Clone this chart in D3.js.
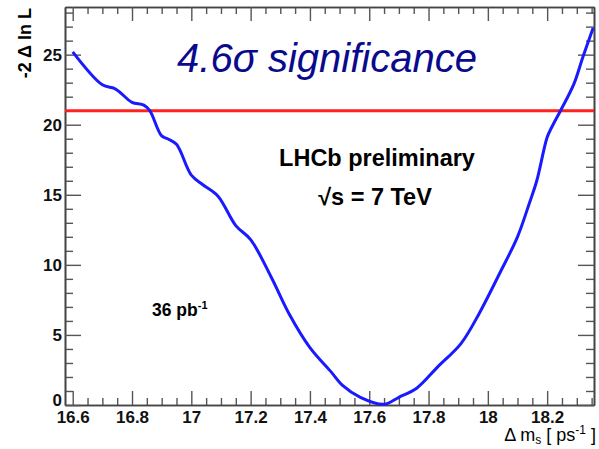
<!DOCTYPE html>
<html>
<head>
<meta charset="utf-8">
<script src="https://cdn.jsdelivr.net/npm/d3@7"></script>
<style>
  body { margin: 0; background: #fff; }
  svg { display: block; font-family: "Liberation Sans", Arial, sans-serif; }
  .axis path { stroke: #444; stroke-width: 1.6; }
  .axis line { stroke: #555; stroke-width: 1.4; }
  .axis text { font-size: 17px; font-weight: bold; fill: #111; font-family: "Liberation Sans", Arial, sans-serif; }
</style>
</head>
<body>
<div class="container"></div>
<script>
// scan of -2 delta lnL versus delta m_s
const dmVals  = [16.60, 16.70, 16.74, 16.76, 16.80, 16.84, 16.86, 16.90, 16.92, 16.95, 17.00, 17.04, 17.09,
                 17.15, 17.20, 17.27, 17.33, 17.40, 17.47, 17.51, 17.57, 17.65, 17.70, 17.76, 17.83, 17.91,
                 17.97, 18.04, 18.10, 18.14, 18.165, 18.20, 18.215, 18.245, 18.29, 18.32, 18.355]
const nllVals = [25.2, 22.85, 22.6, 22.3, 21.6, 21.4, 21.0, 19.2, 19.0, 18.6, 16.4, 15.7, 14.9,
                 12.8, 11.8, 9.1, 6.5, 4.1, 2.4, 1.4, 0.55, 0.05, 0.55, 1.2, 2.7, 4.4,
                 6.5, 9.4, 12.0, 14.4, 16.0, 19.1, 19.8, 21.0, 22.9, 24.8, 26.9]
const sigmaLevel = 21.0

const xMajor = [16.6, 16.8, 17, 17.2, 17.4, 17.6, 17.8, 18, 18.2]
const xLabels = ["16.6", "16.8", "17", "17.2", "17.4", "17.6", "17.8", "18", "18.2"]
const yMajor = [0, 5, 10, 15, 20, 25]

const width = 599
const height = 449
const frameL = 65, frameR = 594, frameT = 7, frameB = 405

const xScale = d3.scaleLinear().domain([16.574, 18.358]).range([frameL, frameR])
const yScale = d3.scaleLinear().domain([0, 28.4]).range([frameB, frameT])

const xMinor = d3.range(16.6, 18.36, 0.05).map(d => +d.toFixed(2)).filter(d => !xMajor.includes(d))
const yMinor = d3.range(0, 29, 1).filter(d => d % 5)

const svg = d3.select(".container").append("svg")
    .attr("width", width)
    .attr("height", height)

// minor ticks on all four sides
svg.append("g").attr("class", "axis")
    .attr("transform", `translate(0,${frameB})`)
    .call(d3.axisBottom(xScale).tickValues(xMinor).tickSize(-7).tickSizeOuter(0).tickFormat(""))
svg.append("g").attr("class", "axis")
    .attr("transform", `translate(0,${frameT})`)
    .call(d3.axisTop(xScale).tickValues(xMinor).tickSize(-7).tickSizeOuter(0).tickFormat(""))
svg.append("g").attr("class", "axis")
    .attr("transform", `translate(${frameL},0)`)
    .call(d3.axisLeft(yScale).tickValues(yMinor).tickSize(-8).tickSizeOuter(0).tickFormat(""))
svg.append("g").attr("class", "axis")
    .attr("transform", `translate(${frameR},0)`)
    .call(d3.axisRight(yScale).tickValues(yMinor).tickSize(-8).tickSizeOuter(0).tickFormat(""))

// major ticks + labels
svg.append("g").attr("class", "axis").attr("id", "x-axis")
    .attr("transform", `translate(0,${frameB})`)
    .call(d3.axisBottom(xScale).tickValues(xMajor).tickSize(-14).tickSizeOuter(0).tickPadding(6)
        .tickFormat((d, i) => xLabels[i]))
svg.append("g").attr("class", "axis")
    .attr("transform", `translate(0,${frameT})`)
    .call(d3.axisTop(xScale).tickValues(xMajor).tickSize(-14).tickSizeOuter(0).tickFormat(""))
svg.append("g").attr("class", "axis").attr("id", "y-axis")
    .attr("transform", `translate(${frameL},0)`)
    .call(d3.axisLeft(yScale).tickValues(yMajor).tickSize(-16).tickSizeOuter(0).tickPadding(3))
svg.append("g").attr("class", "axis")
    .attr("transform", `translate(${frameR},0)`)
    .call(d3.axisRight(yScale).tickValues(yMajor).tickSize(-16).tickSizeOuter(0).tickFormat(""))

// the "0" sits just above the first x label
svg.select("#y-axis").selectAll(".tick text").filter(d => d === 0).attr("dy", "0em")

// red reference line
svg.append("line")
    .attr("x1", xScale.range()[0])
    .attr("x2", xScale.range()[1])
    .attr("y1", yScale(sigmaLevel))
    .attr("y2", yScale(sigmaLevel))
    .attr("stroke", "#ff2020")
    .attr("stroke-width", 3)

// likelihood curve
const line = d3.line()
    .x(d => xScale(d[0]))
    .y(d => yScale(d[1]))
    .curve(d3.curveCatmullRom)

svg.append("path")
    .datum(dmVals.map((d, i) => [d, nllVals[i]]))
    .attr("d", line)
    .attr("fill", "none")
    .attr("stroke", "#1a1aff")
    .attr("stroke-width", 3)
    .attr("stroke-linejoin", "round")

// axis titles
svg.append("text")
    .attr("transform", "translate(31,8) rotate(-90)")
    .attr("text-anchor", "end")
    .style("font-size", "18px")
    .style("font-weight", "bold")
    .text("-2 \u0394 ln L")

const xTitle = svg.append("text")
    .attr("x", 596)
    .attr("y", 441)
    .attr("text-anchor", "end")
    .style("font-size", "18px")
xTitle.append("tspan").text("\u0394 m")
xTitle.append("tspan").attr("dy", 3).style("font-size", "12px").text("s")
xTitle.append("tspan").attr("dy", -3).text(" [ ps")
xTitle.append("tspan").attr("dy", -7).style("font-size", "12px").text("-1")
xTitle.append("tspan").attr("dy", 7).text(" ]")

// labels inside the frame
svg.append("text")
    .attr("x", 327)
    .attr("y", 72)
    .attr("text-anchor", "middle")
    .style("font-size", "40px")
    .style("font-style", "italic")
    .style("fill", "#0a0a8c")
    .text("4.6\u03c3 significance")

svg.append("text")
    .attr("x", 377)
    .attr("y", 166)
    .attr("text-anchor", "middle")
    .style("font-size", "23.5px")
    .style("font-weight", "bold")
    .text("LHCb preliminary")

svg.append("text")
    .attr("x", 375)
    .attr("y", 205)
    .attr("text-anchor", "middle")
    .style("font-size", "23.5px")
    .style("font-weight", "bold")
    .text("\u221as = 7 TeV")

const lumi = svg.append("text")
    .attr("x", 152)
    .attr("y", 316)
    .style("font-size", "17.5px")
    .style("font-weight", "bold")
lumi.append("tspan").text("36 pb")
lumi.append("tspan").attr("dy", -7).style("font-size", "11px").text("-1")
</script>
</body>
</html>
